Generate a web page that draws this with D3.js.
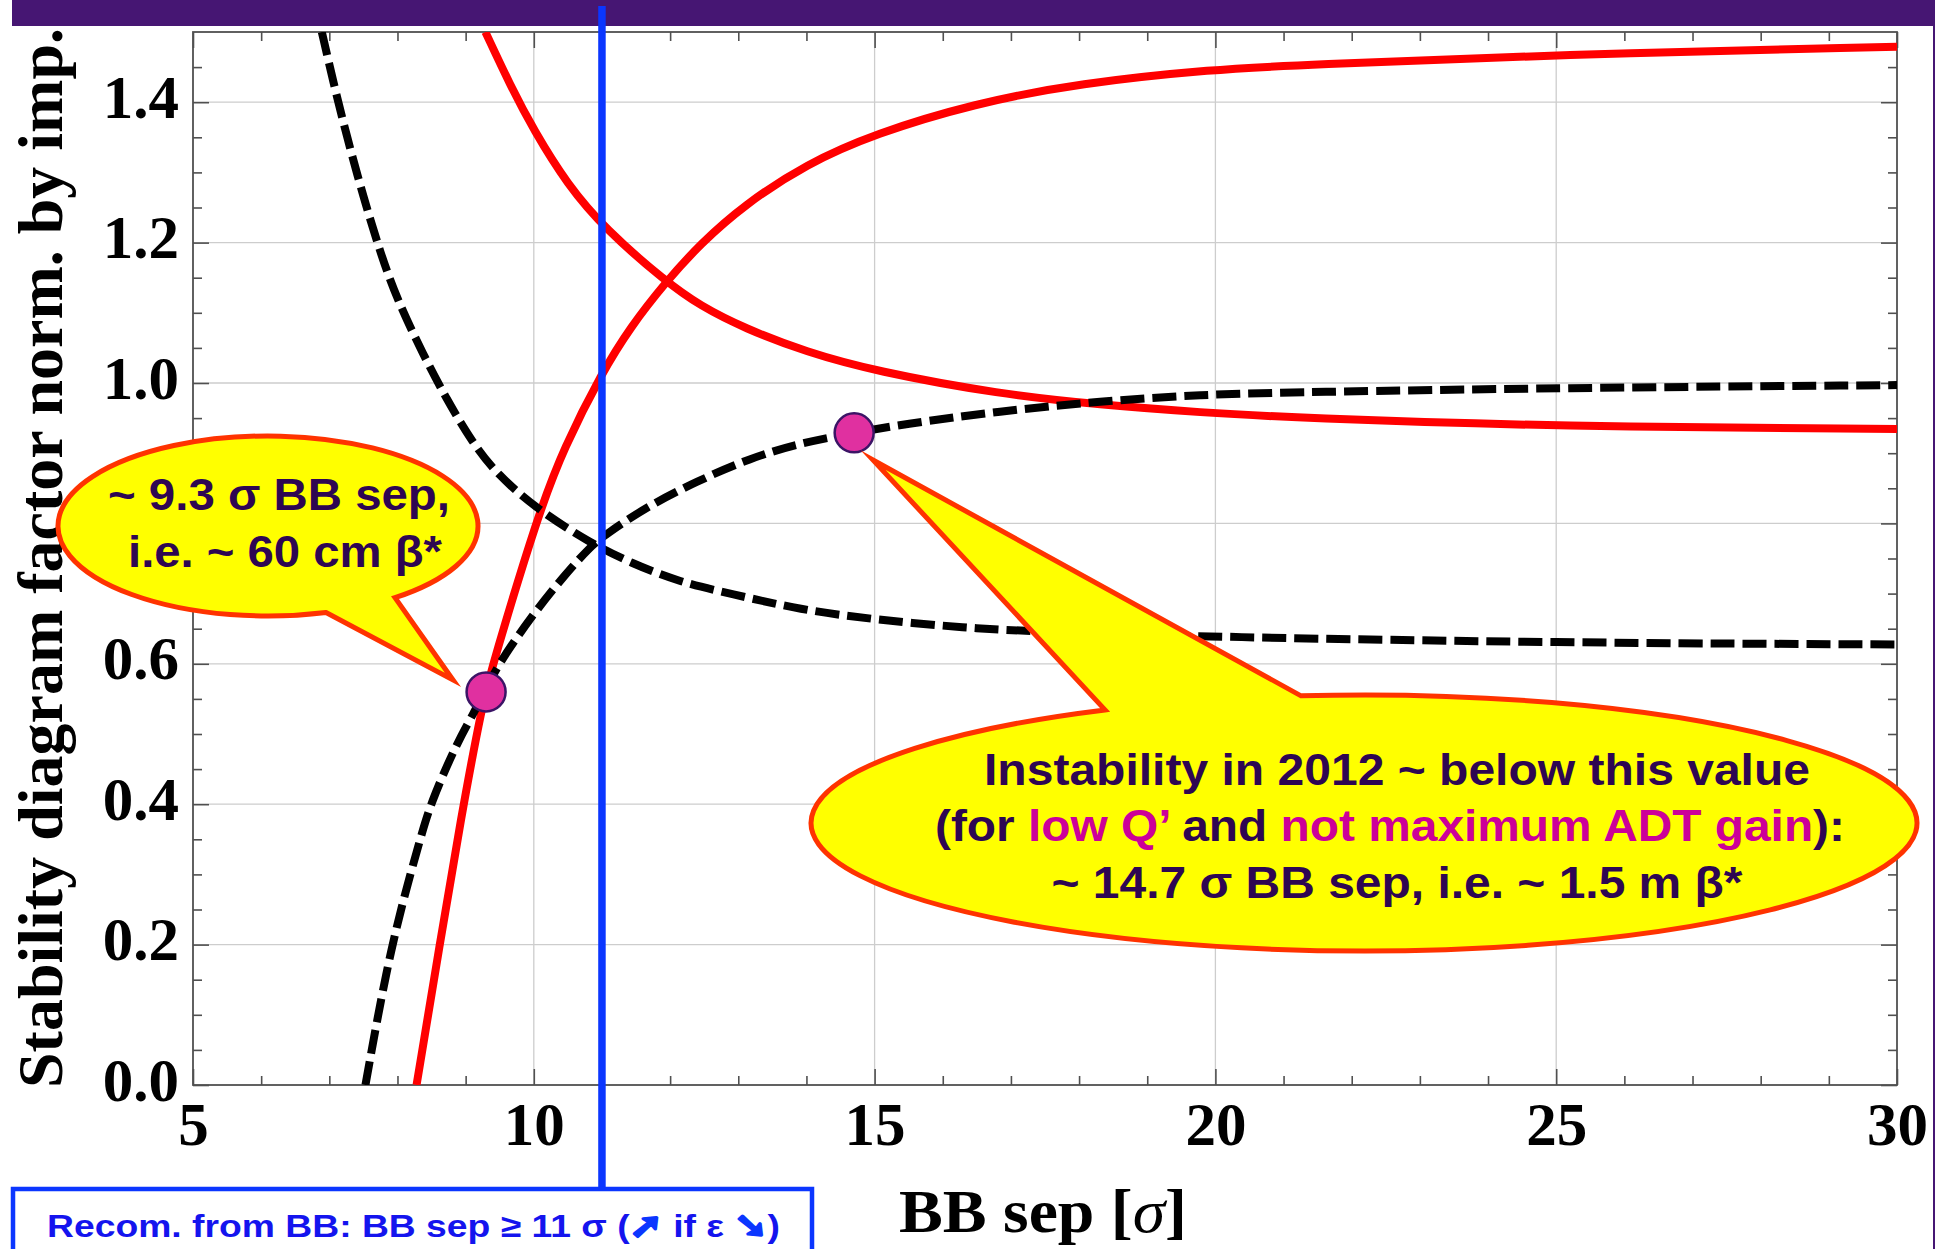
<!DOCTYPE html>
<html>
<head>
<meta charset="utf-8">
<script src="https://cdn.jsdelivr.net/npm/d3@7"></script>
<style>
  html, body { margin: 0; padding: 0; background: #ffffff; }
  svg { display: block; }
</style>
</head>
<body>
<svg id="chart" width="1948" height="1249"></svg>
<script>
// ---- Curves: stability diagram factor (normalised by impedance) vs beam-beam separation ----
const redRiseX  = [8.28, 8.62, 8.93, 9.25, 9.40, 10.07, 10.44, 11.0, 11.42, 11.93, 12.44, 13.09, 14.0, 15.0, 16.46, 18.0, 20.0, 21.24, 25.0, 30.0];
const redRiseY  = [0.0, 0.2, 0.38, 0.545, 0.60, 0.815, 0.907, 1.015, 1.08, 1.143, 1.198, 1.254, 1.312, 1.355, 1.398, 1.427, 1.447, 1.453, 1.468, 1.479];

const redFallX  = [9.29, 9.655, 10.0, 10.49, 11.05, 11.93, 12.44, 13.09, 14.0, 15.0, 16.84, 18.31, 19.78, 21.24, 25.0, 30.0];
const redFallY  = [1.5, 1.424, 1.36, 1.283, 1.219, 1.145, 1.11, 1.078, 1.044, 1.017, 0.984, 0.969, 0.958, 0.950, 0.938, 0.9345];

const blackRiseX = [7.53, 7.9, 8.33, 8.48, 8.87, 9.12, 9.25, 9.48, 10.0, 10.44, 10.83, 11.05, 11.66, 12.39, 13.175, 13.91, 14.7, 15.38, 16.84, 18.31, 19.78, 21.24, 25.0, 30.0];
const blackRiseY = [0.0, 0.2, 0.349, 0.40, 0.487, 0.53, 0.555, 0.60, 0.672, 0.725, 0.767, 0.784, 0.824, 0.86, 0.893, 0.9146, 0.929, 0.9407, 0.960, 0.974, 0.9835, 0.987, 0.993, 0.997];

const blackFallX = [6.89, 7.06, 7.26, 7.50, 7.75, 7.99, 8.38, 8.72, 9.1, 9.46, 10.05, 10.83, 11.415, 12.15, 12.88, 13.91, 15.0, 16.35, 17.33, 20.0, 25.0, 30.0];
const blackFallY = [1.5, 1.428, 1.35, 1.265, 1.185, 1.12, 1.04, 0.977, 0.915, 0.870, 0.82, 0.772, 0.744, 0.716, 0.700, 0.677, 0.663, 0.651, 0.646, 0.638, 0.630, 0.6275];

// Highlighted operating points (BB separation in sigma, factor)
const markerX = [9.3, 14.7];
const markerY = [0.56, 0.929];

// Recommended minimum BB separation
const sepLimit = 11;

// Axis ticks (the 0.8 label sits under the left bubble)
const xTicks = [5, 10, 15, 20, 25, 30];
const xTickLabels = ["5", "10", "15", "20", "25", "30"];
const yTicks = [0, 0.2, 0.4, 0.6, 0.8, 1.0, 1.2, 1.4];
const yTickLabels = ["0.0", "0.2", "0.4", "0.6", "", "1.0", "1.2", "1.4"];
const xMinorTicks = d3.range(5, 31, 1).filter(v => v % 5 !== 0);
const yMinorTicks = d3.range(1, 30).map(i => i * 0.05).filter(v => Math.abs(v * 5 - Math.round(v * 5)) > 1e-6);

// ---- Layout ----
const W = 1948, H = 1249;
const plot = { left: 193, right: 1897, top: 32, bottom: 1085 };
const serif = '"Liberation Serif", "Times New Roman", Times, serif';
const sans = '"Liberation Sans", Arial, Helvetica, sans-serif';
const purple = "#461673";
const blue = "#0b36ff";
const textPurple = "#2e0652";
const magenta = "#cc0099";
const frameGray = "#505050";

const svg = d3.select("#chart");

const x = d3.scaleLinear().domain([5, 30]).range([plot.left, plot.right]);
const y = d3.scaleLinear().domain([0, 1.5]).range([plot.bottom, plot.top]);

// Header band and right rule
svg.append("rect").attr("x", 12).attr("y", 0).attr("width", 1922).attr("height", 26).attr("fill", purple);
svg.append("line").attr("x1", 1934).attr("x2", 1934).attr("y1", 0).attr("y2", H)
  .attr("stroke", purple).attr("stroke-width", 2);

// Grid
const grid = svg.append("g").attr("stroke", "#cdcdcd").attr("stroke-width", 1.3);
grid.selectAll("line.gx").data(xTicks.filter(v => v > 5 && v < 30)).join("line")
  .attr("x1", d => x(d)).attr("x2", d => x(d)).attr("y1", plot.top).attr("y2", plot.bottom);
grid.selectAll("line.gy").data(yTicks.filter(v => v > 0)).join("line")
  .attr("y1", d => y(d)).attr("y2", d => y(d)).attr("x1", plot.left).attr("x2", plot.right);

// Axes (ticks point into the frame on all four sides)
function styleAxis(g) {
  g.select(".domain").remove();
  g.selectAll(".tick line").attr("stroke", frameGray).attr("stroke-width", 1.6);
}
const majorLen = 16, minorLen = 9;

const gBottom = svg.append("g").attr("transform", `translate(0,${plot.bottom})`)
  .call(d3.axisBottom(x).tickValues(xTicks).tickSize(-majorLen).tickFormat((d, i) => xTickLabels[i]));
svg.append("g").attr("transform", `translate(0,${plot.bottom})`)
  .call(d3.axisBottom(x).tickValues(xMinorTicks).tickSize(-minorLen).tickFormat("")).call(styleAxis);
gBottom.call(styleAxis);
gBottom.selectAll(".tick text")
  .attr("y", 60).attr("dy", null)
  .attr("font-family", serif).attr("font-weight", "bold").attr("font-size", 61).attr("fill", "#000");

svg.append("g").attr("transform", `translate(0,${plot.top})`)
  .call(d3.axisTop(x).tickValues(xTicks).tickSize(-majorLen).tickFormat("")).call(styleAxis);
svg.append("g").attr("transform", `translate(0,${plot.top})`)
  .call(d3.axisTop(x).tickValues(xMinorTicks).tickSize(-minorLen).tickFormat("")).call(styleAxis);

const gLeft = svg.append("g").attr("transform", `translate(${plot.left},0)`)
  .call(d3.axisLeft(y).tickValues(yTicks).tickSize(-majorLen).tickFormat((d, i) => yTickLabels[i]));
svg.append("g").attr("transform", `translate(${plot.left},0)`)
  .call(d3.axisLeft(y).tickValues(yMinorTicks).tickSize(-minorLen).tickFormat("")).call(styleAxis);
gLeft.call(styleAxis);
gLeft.selectAll(".tick text")
  .attr("x", -14).attr("dy", null).attr("y", 15).attr("text-anchor", "end")
  .attr("font-family", serif).attr("font-weight", "bold").attr("font-size", 61).attr("fill", "#000");

svg.append("g").attr("transform", `translate(${plot.right},0)`)
  .call(d3.axisRight(y).tickValues(yTicks).tickSize(-majorLen).tickFormat("")).call(styleAxis);
svg.append("g").attr("transform", `translate(${plot.right},0)`)
  .call(d3.axisRight(y).tickValues(yMinorTicks).tickSize(-minorLen).tickFormat("")).call(styleAxis);

// Frame
svg.append("rect")
  .attr("x", plot.left).attr("y", plot.top)
  .attr("width", plot.right - plot.left).attr("height", plot.bottom - plot.top)
  .attr("fill", "none").attr("stroke", frameGray).attr("stroke-width", 1.8);

// Axis titles
svg.append("text")
  .attr("transform", `translate(62,558) rotate(-90)`)
  .attr("text-anchor", "middle")
  .attr("font-family", serif).attr("font-weight", "bold").attr("font-size", 64)
  .attr("textLength", 1060).attr("lengthAdjust", "spacingAndGlyphs")
  .attr("fill", "#000")
  .text("Stability diagram factor norm. by imp.");

const xTitle = svg.append("text")
  .attr("x", 1043).attr("y", 1232).attr("text-anchor", "middle")
  .attr("font-family", serif).attr("font-weight", "bold").attr("font-size", 62)
  .attr("textLength", 288).attr("lengthAdjust", "spacingAndGlyphs")
  .attr("fill", "#000");
xTitle.append("tspan").text("BB sep [");
xTitle.append("tspan").attr("font-style", "italic").attr("font-weight", "normal").text("σ");
xTitle.append("tspan").text("]");

// Curves
svg.append("clipPath").attr("id", "plotClip").append("rect")
  .attr("x", plot.left).attr("y", plot.top)
  .attr("width", plot.right - plot.left).attr("height", plot.bottom - plot.top);

const line = d3.line().x(d => x(d[0])).y(d => y(d[1])).curve(d3.curveBasis);
const curves = svg.append("g").attr("clip-path", "url(#plotClip)").attr("fill", "none");

curves.append("path").datum(d3.zip(redRiseX, redRiseY)).attr("d", line)
  .attr("stroke", "#ff0000").attr("stroke-width", 8);
curves.append("path").datum(d3.zip(redFallX, redFallY)).attr("d", line)
  .attr("stroke", "#ff0000").attr("stroke-width", 8);
curves.append("path").datum(d3.zip(blackRiseX, blackRiseY)).attr("d", line)
  .attr("stroke", "#000").attr("stroke-width", 8).attr("stroke-dasharray", "24,8");
curves.append("path").datum(d3.zip(blackFallX, blackFallY)).attr("d", line)
  .attr("stroke", "#000").attr("stroke-width", 8).attr("stroke-dasharray", "24,8");

// Recommendation box and separation limit line
const boxTop = 1189;
svg.append("line")
  .attr("x1", x(sepLimit)).attr("x2", x(sepLimit)).attr("y1", 6).attr("y2", boxTop)
  .attr("stroke", blue).attr("stroke-width", 7.5);

svg.append("rect").attr("x", 13).attr("y", boxTop).attr("width", 799).attr("height", 90)
  .attr("fill", "#fff").attr("stroke", blue).attr("stroke-width", 4.5);

const recom = svg.append("text")
  .attr("x", 47).attr("y", 1237)
  .attr("font-family", sans).attr("font-weight", "bold").attr("font-size", 32)
  .attr("textLength", 733).attr("lengthAdjust", "spacingAndGlyphs")
  .attr("fill", "#1414ee");
const arrowFont = '"DejaVu Sans", sans-serif';
recom.append("tspan").text("Recom. from BB: BB sep ≥ 11 σ (");
recom.append("tspan").attr("font-family", arrowFont).attr("font-size", 34)
  .attr("fill", blue).attr("stroke", blue).attr("stroke-width", 3).attr("stroke-linejoin", "round").text("➚");
recom.append("tspan").text(" if ε ");
recom.append("tspan").attr("font-family", arrowFont).attr("font-size", 34)
  .attr("fill", blue).attr("stroke", blue).attr("stroke-width", 3).attr("stroke-linejoin", "round").text("➘");
recom.append("tspan").text(")");

// Markers
svg.append("g").selectAll("circle").data(d3.zip(markerX, markerY)).join("circle")
  .attr("cx", d => x(d[0])).attr("cy", d => y(d[1])).attr("r", 19.5)
  .attr("fill", "#e030a0").attr("stroke", "#3b1466").attr("stroke-width", 2.5);

// Speech-bubble callouts
function bubblePath(c) {
  const yOn = bx => {
    const t = (bx - c.cx) / c.rx;
    return c.cy + c.side * c.ry * Math.sqrt(1 - t * t);
  };
  const a = [c.baseA, yOn(c.baseA)];
  const b = [c.baseB, yOn(c.baseB)];
  const sweep = c.side > 0 ? 0 : 1;
  return `M${a[0]},${a[1]} L${c.tip[0]},${c.tip[1]} L${b[0]},${b[1]} ` +
         `A${c.rx},${c.ry} 0 1 ${sweep} ${a[0]},${a[1]} Z`;
}

const bubbles = [
  { cx: 268, cy: 526, rx: 210, ry: 90, side: 1, baseA: 326, baseB: 395, tip: [453, 680] },
  { cx: 1364, cy: 823, rx: 553, ry: 128, side: -1, baseA: 1105, baseB: 1301, tip: [873, 460] }
];
svg.append("g").selectAll("path").data(bubbles).join("path")
  .attr("d", bubblePath)
  .attr("fill", "#ffff00").attr("stroke", "#ff3300").attr("stroke-width", 5)
  .attr("stroke-linejoin", "miter").attr("stroke-miterlimit", 20);

function bubbleLine(cx, base, len, parts) {
  const t = svg.append("text")
    .attr("x", cx).attr("y", base).attr("text-anchor", "middle")
    .attr("font-family", sans).attr("font-weight", "bold").attr("font-size", 45)
    .attr("textLength", len).attr("lengthAdjust", "spacingAndGlyphs")
    .attr("fill", textPurple);
  parts.forEach(p => t.append("tspan").attr("fill", p[1] || textPurple).text(p[0]));
}

bubbleLine(279, 510, 342, [["~ 9.3 σ BB sep,"]]);
bubbleLine(285, 567, 314, [["i.e. ~ 60 cm β*"]]);

bubbleLine(1397, 785, 826, [["Instability in 2012 ~ below this value"]]);
bubbleLine(1390, 841, 910, [["(for "], ["low Q’", magenta], [" and "], ["not maximum ADT gain", magenta], ["):"]]);
bubbleLine(1397, 898, 691, [["~ 14.7 σ BB sep, i.e. ~ 1.5 m β*"]]);
</script>
</body>
</html>
